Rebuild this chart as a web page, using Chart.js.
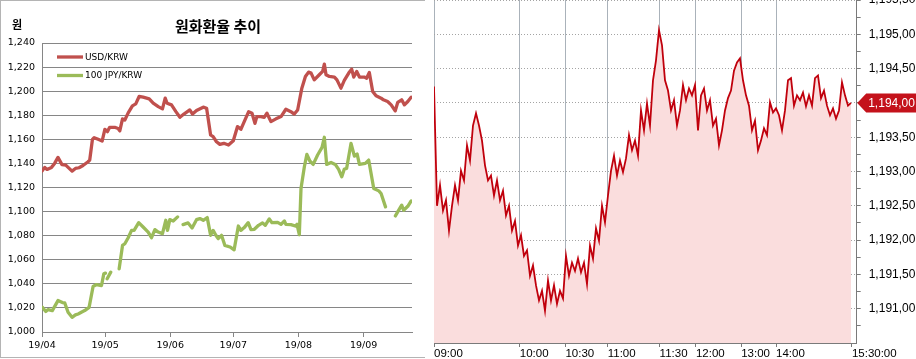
<!doctype html>
<html>
  <head>
    <meta charset="utf-8">
    <script src="https://cdn.jsdelivr.net/npm/chart.js@4.4.1/dist/chart.umd.min.js"></script>
    <style>
      body { margin: 0; background: #fff; }
      #left { position: absolute; left: 0; top: 0; }
      #right { position: absolute; left: 425px; top: 0; }
      #frame { position: absolute; left: 0; top: 0; width: 424px; height: 356px; border: 1px solid #b4b4b4; border-right: none; pointer-events: none; }
    </style>
  </head>
  <body>
    <canvas id="left" width="425" height="359"></canvas>
    <canvas id="right" width="491" height="359"></canvas>
    <div id="frame"></div>

    <script>
      // ---- left panel: daily rates, x = days since 2019-04-01 ----
      const chartTitle = '원화환율 추이'
      const unitLabel = '원'
      const monthDays = [0, 30, 61, 91, 122, 153]
      const monthLabels = ['19/04', '19/05', '19/06', '19/07', '19/08', '19/09']

      const usdDays = [0, 1.3, 2.4, 4.5, 6, 7.6, 9.5, 11.3, 14.3, 15.9, 17.6, 19.5, 21.9, 22.7, 24, 24.8, 26.7, 28.6, 29.9, 31.1,
        32.2, 34.6, 36.2, 37, 38.3, 39.4, 41, 43, 44.6, 46.2, 48.1, 51, 52.9, 55.3, 57.3, 58.6, 59.5, 61.6, 63.7, 65.6,
        67.5, 70.3, 71.6, 73.5, 76.7, 78.3, 80.2, 81.4, 83, 84.6, 86.5, 88.7, 91, 93, 94.6, 96.2, 98.3, 99.9, 101.3, 102.2,
        104.1, 105.7, 107, 108.9, 111.3, 113.7, 116, 118.4, 120, 121.6, 123.6, 125.3, 126.8, 128, 129.5, 131.9, 133.5, 134.3, 135.1, 136.7,
        139.1, 140.3, 142.2, 143.8, 145.9, 147.3, 148.3, 149.7, 151, 153.3, 154.4, 155.7, 157.3, 158.9, 161.3, 162.4, 164.4, 166.1, 168, 169.2,
        171.1, 172.4, 174, 175.6]
      const usdRates = [1133.6, 1136.7, 1135, 1136.7, 1140, 1145, 1139, 1138.6, 1133.6, 1135.8, 1136.4, 1138.3, 1141.4, 1142.8, 1160, 1161.4, 1160, 1158.6, 1168.3, 1166.4,
        1170, 1170, 1169, 1167, 1177, 1176, 1182, 1187.8, 1189.4, 1195.6, 1195, 1193.6, 1190, 1187.2, 1185.3, 1194.2, 1190, 1188.6, 1183, 1178.3,
        1181, 1184.4, 1181, 1183.9, 1186.7, 1185.8, 1163.6, 1162.2, 1158, 1155.8, 1156.7, 1155.3, 1158.9, 1170.6, 1168.3, 1174.7, 1183, 1181.7, 1173.3, 1178.9,
        1178.9, 1178.3, 1181.7, 1174.7, 1177, 1178.9, 1185, 1183, 1181, 1184.4, 1202.5, 1212.2, 1215.8, 1215, 1209.4, 1213.6, 1216.4, 1222.5, 1213.6, 1212.2,
        1211.7, 1209.4, 1202.5, 1208.9, 1215, 1218.3, 1211.7, 1216.4, 1211.7, 1211.7, 1210.8, 1215.5, 1199.7, 1196.1, 1194.2, 1192.8, 1191.4, 1188.6, 1183.6, 1190.6,
        1192.8, 1188.6, 1191.4, 1195]

      // null = no quote that day (gap in the line)
      const jpyDays = [0.2, 1.8, 2.9, 4.9, 7.6, 9.7, 10.8, 12.4, 14.3, 15.9, 17.2, 18.7, 20.3, 22.4, 24.3, 25.9, 28.3, 29.4, 30.2, 30.6,
        31, 32.7, 34, 36.7, 38.3, 39.4, 41, 42.6, 43.8, 46, 48.1, 50.5, 52.1, 53.7, 55.3, 57.3, 58.9, 59.7, 60.8, 62.4,
        64.5, 65.8, 67.1, 69.5, 71.4, 73.5, 75.1, 76.7, 78.6, 80.2, 81.4, 82.7, 83.8, 85.4, 87, 89.4, 91.4, 93.4, 94.6, 96.2,
        98.1, 99.4, 101, 103, 104.9, 106.2, 108.1, 109.4, 112.1, 113.7, 115.3, 116, 118.4, 120.5, 121.3, 122.4, 123.2, 124.8, 126, 127.4,
        129, 131.1, 133.2, 134.3, 135.4, 137.5, 139.5, 141.1, 142.6, 143.8, 144.9, 147, 148.6, 149.9, 151, 153.8, 155.4, 157.8, 160.2, 161.3,
        163.4, 165.5, 168.1, 169.2, 171.1, 172, 174, 175.6]
      const jpyRates = [1020.5, 1017, 1018.6, 1017.8, 1026.1, 1024.4, 1024.2, 1016.4, 1012.2, 1014.2, 1015, 1016.4, 1017.8, 1020.5, 1037.8, 1039.4, 1038.6, 1048.3, 1048.9, null,
        1044.2, 1049.7, null, 1052.5, 1071.9, 1073.3, 1078.3, 1084.4, 1084.4, 1090.8, 1087.2, 1083, 1078.3, 1085, 1083, 1081.7, 1092.8, 1084.4, 1093.3, 1092.2,
        1095.6, null, 1089.2, 1090.6, 1086.4, 1093.3, 1094.2, 1092.8, 1095, 1080.3, 1084.4, 1080.3, 1077.5, 1080.3, 1071.9, 1070.6, 1068.3, 1088, 1084.4, 1086.7,
        1090.8, 1085, 1085.3, 1088.6, 1090.6, 1088.6, 1093.9, 1090.8, 1091.1, 1089.4, 1092.2, 1089.4, 1089.2, 1088, 1089.4, 1080.8, 1119.2, 1137.2, 1147.5, 1142,
        1139.2, 1147, 1153.3, 1161.7, 1139.2, 1140.8, 1139.2, 1135, 1128.9, 1135.3, 1135.8, 1156.7, 1146.1, 1147.8, 1139.2, 1140, 1142.8, 1119.2, 1117.2, 1115,
        1103.9, null, 1096.4, 1099.7, 1105.3, 1101.1, 1104.4, 1108.9]

      // ---- right panel: intraday ticks, x = tick sequence ----
      const timeTicks = [0, 28.6, 43.8, 57.9, 75.2, 87.3, 102.4, 114, 139.3]
      const timeLabels = ['09:00', '10:00', '10:30', '11:00', '11:30', '12:00', '13:00', '14:00', '15:30:00']
      const priceLevels = [1191.0, 1191.5, 1192.0, 1192.5, 1193.0, 1193.5, 1194.0, 1194.5, 1195.0, 1195.5]
      const tickPrices = [
        1194.24, 1192.50, 1192.80, 1192.43, 1192.58, 1192.14, 1192.50, 1192.80, 1192.58, 1193.01,
        1192.87, 1193.38, 1193.16, 1193.67, 1193.85, 1193.67, 1193.45, 1193.09, 1192.87, 1192.94,
        1192.65, 1192.87, 1192.58, 1192.72, 1192.36, 1192.50, 1192.14, 1192.28, 1191.92, 1192.07,
        1191.77, 1191.85, 1191.48, 1191.63, 1191.34, 1191.12, 1191.26, 1190.97, 1191.41, 1191.12,
        1191.34, 1191.07, 1191.26, 1191.15, 1191.77, 1191.48, 1191.67, 1191.55, 1191.73, 1191.53,
        1191.67, 1191.36, 1191.92, 1191.73, 1192.17, 1191.99, 1192.50, 1192.26, 1192.65, 1193.01,
        1193.23, 1192.94, 1193.16, 1192.99, 1193.19, 1193.53, 1193.31, 1193.45, 1193.23, 1193.89,
        1193.60, 1193.99, 1193.67, 1194.33, 1194.62, 1195.06, 1194.84, 1194.33, 1194.18, 1193.89,
        1194.04, 1193.67, 1193.89, 1194.26, 1194.04, 1194.21, 1194.11, 1194.26, 1193.60, 1194.11,
        1194.21, 1193.89, 1194.04, 1193.67, 1193.77, 1193.38, 1193.60, 1193.89, 1194.07, 1194.18,
        1194.47, 1194.59, 1194.65, 1194.33, 1194.11, 1193.96, 1193.60, 1193.74, 1193.31, 1193.45,
        1193.63, 1193.53, 1194.01, 1193.86, 1193.92, 1193.82, 1193.60, 1193.89, 1194.33, 1194.36,
        1193.96, 1194.11, 1194.04, 1194.15, 1193.95, 1194.11, 1193.96, 1194.36, 1194.40, 1194.07,
        1194.18, 1193.96, 1193.82, 1193.92, 1193.77, 1193.89, 1194.30, 1194.11, 1193.96, 1194.00]

      const usdColor = '#c0504d'
      const jpyColor = '#9bbb59'
      const leftGrid = '#868686'
      const tickRed = '#c0000c'

      const toPoints = (xs, ys) => xs.map((x, i) => ({ x: x, y: ys[i] }))

      const fmtPrice = v => {
        const parts = v.toFixed(2).split('.')
        return Number(parts[0]).toLocaleString('en-US') + ',' + parts[1]
      }

      const isHalf = v => Math.abs(v * 2 - Math.round(v * 2)) < 1e-6

      const leftDecor = {
        id: 'leftDecor',
        afterDraw(chart) {
          const ctx = chart.ctx
          ctx.save()
          ctx.fillStyle = '#000'
          ctx.textBaseline = 'middle'
          ctx.font = 'bold 11px "Noto Sans CJK KR"'
          ctx.fillText(unitLabel, 12, 25)
          ctx.font = 'bold 15px "Noto Sans CJK KR"'
          ctx.textAlign = 'center'
          ctx.fillText(chartTitle, 218, 26)
          // legend
          ctx.textAlign = 'left'
          ctx.font = '9px "DejaVu Sans"'
          chart.data.datasets.forEach((ds, i) => {
            const y = 57 + i * 18.5
            ctx.strokeStyle = ds.borderColor
            ctx.lineWidth = 3.3
            ctx.beginPath()
            ctx.moveTo(57, y)
            ctx.lineTo(83, y)
            ctx.stroke()
            ctx.fillText(ds.label, 85, y + 0.5)
          })
          ctx.restore()
        }
      }

      const lastMarker = {
        id: 'lastMarker',
        afterDraw(chart) {
          const ctx = chart.ctx
          const area = chart.chartArea
          const last = tickPrices[tickPrices.length - 1]
          const y = chart.scales.y.getPixelForValue(last)
          const x0 = area.right + 0.5
          ctx.save()
          ctx.fillStyle = '#c4121b'
          ctx.beginPath()
          ctx.moveTo(x0, y)
          ctx.lineTo(x0 + 9, y - 9.5)
          ctx.lineTo(491, y - 9.5)
          ctx.lineTo(491, y + 9.5)
          ctx.lineTo(x0 + 9, y + 9.5)
          ctx.closePath()
          ctx.fill()
          ctx.fillStyle = '#fff'
          ctx.font = '12px "Liberation Sans"'
          ctx.textBaseline = 'middle'
          ctx.fillText(fmtPrice(last), x0 + 11, y + 0.5)
          ctx.restore()
        }
      }

      new Chart(document.getElementById('left'), {
        type: 'line',
        data: {
          datasets: [
            { label: 'USD/KRW', data: toPoints(usdDays, usdRates), borderColor: usdColor, borderWidth: 3.3,
              pointRadius: 0, borderJoinStyle: 'round', borderCapStyle: 'round' },
            { label: '100 JPY/KRW', data: toPoints(jpyDays, jpyRates), borderColor: jpyColor, borderWidth: 3.3,
              pointRadius: 0, borderJoinStyle: 'round', borderCapStyle: 'round', spanGaps: false }
          ]
        },
        options: {
          responsive: false,
          animation: false,
          layout: { autoPadding: false, padding: { top: 43, right: 13, left: 0, bottom: 0 } },
          plugins: { legend: { display: false }, tooltip: { enabled: false } },
          scales: {
            x: {
              type: 'linear', min: 0, max: 176,
              afterBuildTicks: s => { s.ticks = monthDays.map(v => ({ value: v })) },
              afterFit: s => { s.height = 27; s.paddingLeft = 0; s.paddingRight = 0 },
              ticks: { callback: v => monthLabels[monthDays.indexOf(v)], autoSkip: false, maxRotation: 0,
                padding: 3, color: '#000', font: { family: '"DejaVu Sans"', size: 9.5 } },
              grid: { drawOnChartArea: false, tickLength: 5, color: leftGrid },
              border: { color: leftGrid }
            },
            y: {
              min: 1000, max: 1240,
              afterFit: s => { s.width = 42; s.paddingTop = 0; s.paddingBottom = 0 },
              ticks: { stepSize: 20, callback: v => v.toLocaleString('en-US'), padding: 7, color: '#000',
                font: { family: '"DejaVu Sans"', size: 9.5 } },
              grid: { color: leftGrid, drawTicks: false },
              border: { color: leftGrid }
            }
          }
        },
        plugins: [leftDecor]
      })

      new Chart(document.getElementById('right'), {
        type: 'line',
        data: {
          datasets: [{
            data: tickPrices.map((v, i) => ({ x: i, y: v })),
            borderColor: tickRed, borderWidth: 1.8, pointRadius: 0,
            fill: 'start', backgroundColor: '#fadddd'
          }]
        },
        options: {
          responsive: false,
          animation: false,
          layout: { autoPadding: false, padding: { top: 0, right: 0, left: 9, bottom: 0 } },
          plugins: { legend: { display: false }, tooltip: { enabled: false } },
          scales: {
            x: {
              type: 'linear', min: 0, max: 140.9,
              afterBuildTicks: s => { s.ticks = timeTicks.map(v => ({ value: v })) },
              afterFit: s => { s.height = 16; s.paddingLeft = 0; s.paddingRight = 0 },
              ticks: { callback: v => timeLabels[timeTicks.indexOf(v)], align: 'start', autoSkip: false, maxRotation: 0,
                padding: 0, color: '#000', font: { family: '"Liberation Sans"', size: 11.5 } },
              grid: {
                color: c => (c.tick && c.tick.value === timeTicks[timeTicks.length - 1]) ? 'rgba(0,0,0,0)' : '#aab2ba',
                tickColor: '#7a7a7a', tickLength: 4
              },
              border: { color: '#7a7a7a' }
            },
            y: {
              position: 'right', min: 1190.5, max: 1195.5,
              afterBuildTicks: s => { s.ticks = priceLevels.flatMap(v => [v - 0.25, v]).map(v => ({ value: v })) },
              afterFit: s => { s.width = 59.3; s.paddingTop = 0; s.paddingBottom = 0 },
              ticks: { callback: v => isHalf(v) ? fmtPrice(v) : '', autoSkip: false, padding: 8, color: '#000',
                font: { family: '"Liberation Sans"', size: 12 } },
              grid: {
                color: c => (c.tick && isHalf(c.tick.value)) ? '#a4a4a4' : 'rgba(0,0,0,0)',
                tickColor: '#7a7a7a', tickLength: 4
              },
              border: { color: '#7a7a7a', dash: [1, 2] }
            }
          }
        },
        plugins: [lastMarker]
      })
    </script>
  </body>
</html>
